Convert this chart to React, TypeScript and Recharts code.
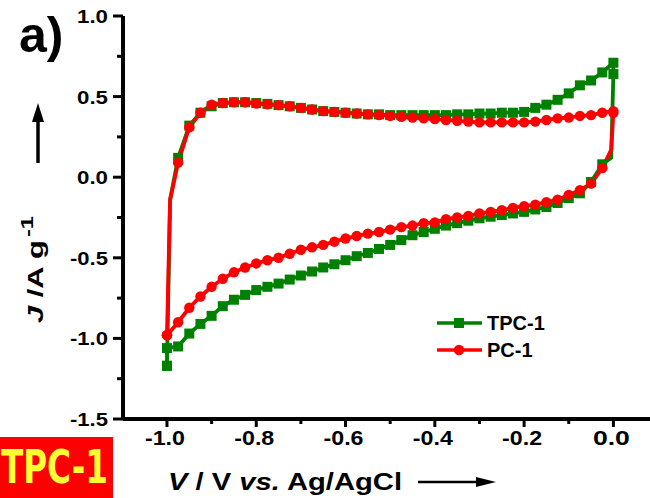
import React from 'react';
import { LineChart, Line, XAxis, YAxis, Legend } from 'recharts';

// Potential grid (V vs. Ag/AgCl); -0.993 and -0.005 are bend points of the trace without a marker
const anodicPotential = [
  -1.0, -0.993, -0.975, -0.95, -0.925, -0.9, -0.875, -0.85, -0.825, -0.8, -0.775,
  -0.75, -0.725, -0.7, -0.675, -0.65, -0.625, -0.6, -0.575, -0.55, -0.525,
  -0.5, -0.475, -0.45, -0.425, -0.4, -0.375, -0.35, -0.325, -0.3, -0.275,
  -0.25, -0.225, -0.2, -0.175, -0.15, -0.125, -0.1, -0.075, -0.05, -0.025, 0.0,
];
const cathodicPotential = [
  0.0, -0.005, -0.025, -0.05, -0.075, -0.1, -0.125, -0.15, -0.175, -0.2, -0.225,
  -0.25, -0.275, -0.3, -0.325, -0.35, -0.375, -0.4, -0.425, -0.45, -0.475,
  -0.5, -0.525, -0.55, -0.575, -0.6, -0.625, -0.65, -0.675, -0.7, -0.725,
  -0.75, -0.775, -0.8, -0.825, -0.85, -0.875, -0.9, -0.925, -0.95, -0.975, -1.0,
];

// Current density J (A/g)
const tpcAnodic = [
  -1.17, -0.14, 0.12, 0.32, 0.40, 0.44, 0.46, 0.465, 0.465, 0.46, 0.455,
  0.447, 0.44, 0.43, 0.42, 0.41, 0.405, 0.40, 0.395, 0.39, 0.39,
  0.385, 0.385, 0.385, 0.385, 0.385, 0.385, 0.39, 0.39, 0.395, 0.395,
  0.40, 0.40, 0.405, 0.43, 0.45, 0.48, 0.52, 0.57, 0.60, 0.65, 0.71,
];
const tpcCathodic = [
  0.64, 0.12, 0.08, -0.03, -0.10, -0.13, -0.16, -0.185, -0.20, -0.215, -0.225,
  -0.235, -0.245, -0.255, -0.27, -0.285, -0.30, -0.32, -0.34, -0.36, -0.39,
  -0.42, -0.445, -0.47, -0.49, -0.515, -0.54, -0.56, -0.585, -0.61, -0.635,
  -0.66, -0.68, -0.70, -0.73, -0.76, -0.80, -0.86, -0.91, -0.97, -1.05, -1.06,
];
const pcAnodic = [
  -0.98, -0.14, 0.09, 0.31, 0.40, 0.45, 0.46, 0.465, 0.465, 0.457, 0.452,
  0.447, 0.44, 0.43, 0.42, 0.41, 0.405, 0.40, 0.395, 0.39, 0.385,
  0.38, 0.375, 0.37, 0.365, 0.36, 0.355, 0.35, 0.345, 0.34, 0.34,
  0.34, 0.34, 0.34, 0.345, 0.355, 0.365, 0.37, 0.38, 0.385, 0.40, 0.41,
];
const pcCathodic = [
  0.40, 0.17, 0.056, -0.04, -0.08, -0.11, -0.14, -0.155, -0.17, -0.18, -0.19,
  -0.205, -0.215, -0.225, -0.24, -0.25, -0.26, -0.28, -0.285, -0.30, -0.31,
  -0.325, -0.34, -0.35, -0.365, -0.38, -0.40, -0.42, -0.435, -0.45, -0.475,
  -0.50, -0.515, -0.535, -0.56, -0.59, -0.63, -0.68, -0.74, -0.81, -0.90, -0.98,
];

const seriesNames = ['TPC-1', 'PC-1'];

const xTicks = [-1.0, -0.9, -0.8, -0.7, -0.6, -0.5, -0.4, -0.3, -0.2, -0.1, 0.0];
const yTicks = [-1.5, -1.25, -1.0, -0.75, -0.5, -0.25, 0.0, 0.25, 0.5, 0.75, 1.0];

const FONT = "'Liberation Sans', Arial, sans-serif";
const GREEN = '#008000';
const RED = '#ff0000';

const buildLoop = (anodic: number[], cathodic: number[]) => {
  const pts = [
    ...anodicPotential.map((v, i) => ({ v, j: anodic[i] })),
    ...cathodicPotential.map((v, i) => ({ v, j: cathodic[i] })),
  ];
  pts.push(pts[0]);
  return pts;
};

const tpcData = buildLoop(tpcAnodic, tpcCathodic);
const pcData = buildLoop(pcAnodic, pcCathodic);

const styles: Record<string, { color: string; shape: 'square' | 'circle' }> = {
  'TPC-1': { color: GREEN, shape: 'square' },
  'PC-1': { color: RED, shape: 'circle' },
};

const Marker = ({ cx, cy, shape, color }: any) =>
  shape === 'square' ? (
    <rect x={cx - 5} y={cy - 5} width={10} height={10} fill={color} />
  ) : (
    <circle cx={cx} cy={cy} r={5.2} fill={color} />
  );

const onGrid = (v: number) => Math.abs(v * 40 - Math.round(v * 40)) < 1e-6;

const makeDot = (name: string) => (props: any) => {
  const { cx, cy, index, payload } = props;
  const s = styles[name];
  if (cx == null || cy == null || !payload || !onGrid(payload.v)) return <g key={`${name}-${index}`} />;
  return (
    <g key={`${name}-${index}`}>
      <Marker cx={cx} cy={cy} shape={s.shape} color={s.color} />
    </g>
  );
};

const XTick = (props: any) => {
  const { x, y, payload } = props;
  const v = payload.value as number;
  const major = Math.abs(v * 5 - Math.round(v * 5)) < 1e-6;
  const label = v.toFixed(1);
  return (
    <g>
      <line x1={x} x2={x} y1={y} y2={y + (major ? 8 : 5)} stroke="#000" strokeWidth={3} />
      {major && (
        <text
          x={x - 2}
          y={y + 26}
          textAnchor="middle"
          fontFamily={FONT}
          fontWeight="bold"
          fontSize={20}
          fill="#000"
          textLength={label.length === 4 ? 40 : 37}
          lengthAdjust="spacingAndGlyphs"
        >
          {label}
        </text>
      )}
    </g>
  );
};

const YTick = (props: any) => {
  const { x, y, payload } = props;
  const v = payload.value as number;
  const major = Math.abs(v * 2 - Math.round(v * 2)) < 1e-6;
  const label = v.toFixed(1);
  return (
    <g>
      <line x1={x - (major ? 10 : 6)} x2={x} y1={y} y2={y} stroke="#000" strokeWidth={3} />
      {major && (
        <text
          x={x - 15}
          y={y + 7}
          textAnchor="end"
          fontFamily={FONT}
          fontWeight="bold"
          fontSize={19}
          fill="#000"
          textLength={label.length === 4 ? 38 : 31}
          lengthAdjust="spacingAndGlyphs"
        >
          {label}
        </text>
      )}
    </g>
  );
};

const LegendContent = (props: any) => {
  const payload = [...(props.payload || [])].sort(
    (a: any, b: any) => seriesNames.indexOf(a.value) - seriesNames.indexOf(b.value),
  );
  return (
    <div style={{ fontFamily: FONT }}>
      {payload.map((entry: any) => {
        const s = styles[entry.value];
        return (
          <div key={entry.value} style={{ display: 'flex', alignItems: 'center', height: 27 }}>
            <svg width={50} height={14} style={{ display: 'block' }}>
              <line x1={0} x2={45} y1={7} y2={7} stroke={s.color} strokeWidth={3.5} />
              <Marker cx={22} cy={7} shape={s.shape} color={s.color} />
            </svg>
            <span
              style={{
                fontWeight: 'bold',
                fontSize: 20,
                color: '#000',
                lineHeight: '20px',
              }}
            >
              {entry.value}
            </span>
          </div>
        );
      })}
    </div>
  );
};

export default function App() {
  return (
    <div style={{ position: 'absolute', left: 0, top: 0, width: 650, height: 498, background: '#fff' }}>
      <LineChart
        width={650}
        height={498}
        margin={{ top: 16, right: 0, bottom: 49, left: 63 }}
      >
        <XAxis
          type="number"
          dataKey="v"
          domain={[-1.0985, 0.082]}
          ticks={xTicks}
          tick={<XTick />}
          tickLine={false}
          tickSize={0}
          tickMargin={0}
          height={30}
          allowDataOverflow
          axisLine={{ stroke: '#000', strokeWidth: 4 }}
        />
        <YAxis
          type="number"
          dataKey="j"
          domain={[-1.5, 1.0]}
          ticks={yTicks}
          tick={<YTick />}
          tickLine={false}
          tickSize={0}
          tickMargin={0}
          width={60}
          allowDataOverflow
          axisLine={{ stroke: '#000', strokeWidth: 4 }}
        />
        <Legend
          layout="vertical"
          align="center"
          verticalAlign="middle"
          content={<LegendContent />}
          wrapperStyle={{ position: 'absolute', left: 437, top: 309, width: 120, height: 54 }}
        />
        <Line
          name={seriesNames[0]}
          data={tpcData}
          dataKey="j"
          type="linear"
          stroke={GREEN}
          strokeWidth={3.8}
          dot={makeDot(seriesNames[0])}
          activeDot={false}
          isAnimationActive={false}
          legendType="line"
        />
        <Line
          name={seriesNames[1]}
          data={pcData}
          dataKey="j"
          type="linear"
          stroke={RED}
          strokeWidth={3.8}
          dot={makeDot(seriesNames[1])}
          activeDot={false}
          isAnimationActive={false}
          legendType="line"
        />
      </LineChart>
      <svg
        width={650}
        height={498}
        style={{ position: 'absolute', left: 0, top: 0, pointerEvents: 'none' }}
      >
        <text x={19} y={52} fontFamily={FONT} fontWeight="bold" fontSize={50} fill="#000">
          a)
        </text>
        {/* up arrow next to y label */}
        <line x1={38} y1={163} x2={38} y2={118} stroke="#000" strokeWidth={3.5} />
        <polygon points="38,103 32,122 44,122" fill="#000" />
        {/* y axis title */}
        <text
          transform="translate(43,323) rotate(-90)"
          fontFamily={FONT}
          fontWeight="bold"
          fontSize={22}
          fill="#000"
          textLength={83}
          lengthAdjust="spacingAndGlyphs"
        >
          <tspan fontStyle="italic">J</tspan>
          <tspan> /A g</tspan>
        </text>
        <text
          transform="translate(33,237) rotate(-90)"
          fontFamily={FONT}
          fontWeight="bold"
          fontSize={16}
          fill="#000"
          textLength={21}
          lengthAdjust="spacingAndGlyphs"
        >
          -1
        </text>
        {/* x axis title */}
        <text
          x={168}
          y={490}
          fontFamily={FONT}
          fontWeight="bold"
          fontSize={23}
          fill="#000"
          textLength={234}
          lengthAdjust="spacingAndGlyphs"
        >
          <tspan fontStyle="italic">V</tspan>
          <tspan> / V </tspan>
          <tspan fontStyle="italic">vs.</tspan>
          <tspan> Ag/AgCl</tspan>
        </text>
        <line x1={418} y1={482} x2={482} y2={482} stroke="#000" strokeWidth={2.5} />
        <polygon points="496,482 476,477 476,487" fill="#000" />
        {/* badge */}
        <rect x={0} y={437} width={113} height={61} fill="#ff0000" />
        <text
          x={1}
          y={483}
          fontFamily="'DejaVu Sans', sans-serif"
          fontWeight="bold"
          fontSize={46}
          fill="#ffff33"
          textLength={107}
          lengthAdjust="spacingAndGlyphs"
        >
          TPC-1
        </text>
      </svg>
    </div>
  );
}
